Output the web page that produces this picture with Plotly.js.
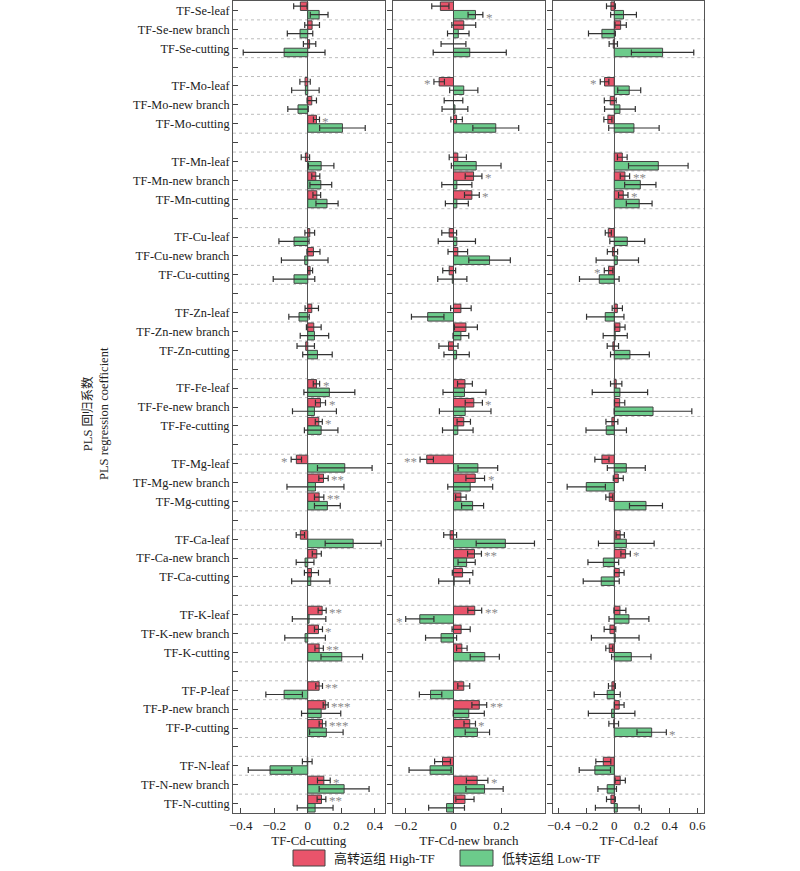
<!DOCTYPE html>
<html>
<head>
<meta charset="utf-8">
<script src="https://cdn.plot.ly/plotly-3.0.1.min.js"></script>
<style>html,body{margin:0;padding:0;background:#fff;}#chart{width:800px;height:871px;}</style>
</head>
<body>
<div id="chart"></div>
<script>
// ---------- DATA ----------
const elements = ['Se','Mo','Mn','Cu','Zn','Fe','Mg','Ca','K','P','N'];
const tissues = ['leaf','new branch','cutting'];
const panelTitles = ['TF-Cd-cutting','TF-Cd-new branch','TF-Cd-leaf'];
const seriesNames = ['高转运组 High-TF','低转运组 Low-TF'];

// order: Se-leaf, Se-new branch, Se-cutting, Mo-leaf, ... N-cutting
// Panel 1: TF-Cd-cutting
const cutHigh = [-0.044,0.026,0.011, -0.016,0.024,0.052, -0.014,0.048,0.054, 0.012,0.034,0.014,
  0.024,0.036,-0.012, 0.052,0.076,0.066, -0.068,0.094,0.068, -0.044,0.054,0.022,
  0.086,0.064,0.068, 0.068,0.107,0.088, -0.003,0.096,0.082];
const cutHighErr = [0.040,0.044,0.037, 0.031,0.028,0.018, 0.025,0.024,0.023, 0.029,0.039,0.015,
  0.040,0.044,0.052, 0.019,0.030,0.021, 0.031,0.028,0.028, 0.025,0.027,0.042,
  0.024,0.024,0.025, 0.020,0.015,0.020, 0.029,0.038,0.026];
const cutLow = [0.068,-0.046,-0.141, -0.014,-0.058,0.207, 0.080,0.078,0.115, -0.082,-0.018,-0.082,
  -0.052,0.040,0.058, 0.129,0.040,0.080, 0.221,0.046,0.117, 0.271,-0.016,0.018,
  0.008,-0.016,0.203, -0.141,0.080,0.111, -0.225,0.217,0.044];
const cutLowErr = [0.053,0.076,0.244, 0.082,0.061,0.136, 0.076,0.065,0.066, 0.090,0.139,0.124,
  0.061,0.085,0.088, 0.152,0.131,0.100, 0.163,0.170,0.077, 0.167,0.053,0.114,
  0.100,0.121,0.124, 0.109,0.117,0.100, 0.130,0.149,0.107];
const cutHighSig = ['','','', '','','*', '','','', '','','',
  '','','', '*','*','*', '*','**','**', '','','',
  '**','*','**', '**','***','***', '','*','**'];
const cutLowSig = new Array(33).fill('');

// Panel 2: TF-Cd-new branch
const nbHigh = [-0.055,0.043,0.000, -0.060,0.000,0.013, 0.018,0.084,0.077, -0.018,0.018,-0.018,
  0.031,0.052,-0.021, 0.048,0.085,0.043, -0.112,0.091,0.031, -0.014,0.088,0.038,
  0.089,0.032,0.035, 0.043,0.108,0.068, -0.046,0.099,0.048];
const nbHighErr = [0.036,0.050,0.052, 0.022,0.039,0.024, 0.036,0.035,0.031, 0.031,0.041,0.027,
  0.043,0.048,0.040, 0.031,0.036,0.028, 0.028,0.039,0.022, 0.027,0.029,0.043,
  0.029,0.038,0.022, 0.025,0.031,0.024, 0.033,0.045,0.038];
const nbLow = [0.092,0.020,0.068, 0.043,0.006,0.177, 0.095,0.014,0.014, 0.014,0.151,-0.005,
  -0.108,0.031,0.013, 0.046,0.049,0.018, 0.102,0.070,0.080, 0.217,0.055,0.003,
  -0.141,-0.052,0.131, -0.096,0.064,0.100, -0.098,0.130,-0.029];
const nbLowErr = [0.031,0.045,0.153, 0.059,0.054,0.096, 0.104,0.063,0.048, 0.078,0.087,0.061,
  0.068,0.033,0.053, 0.090,0.108,0.064, 0.083,0.094,0.046, 0.122,0.036,0.065,
  0.059,0.065,0.061, 0.047,0.065,0.051, 0.088,0.078,0.075];
const nbHighSig = ['','','', '*','','', '','*','*', '','','',
  '','','', '','*','', '**','*','', '','**','',
  '**','','', '','**','*', '','*',''];
const nbLowSig = ['*','','', '','','', '','','', '','','',
  '','','', '','','', '','','', '','','',
  '*','','', '','','', '','',''];

// Panel 3: TF-Cd-leaf
const lfHigh = [-0.024,0.046,-0.007, -0.070,-0.029,-0.046, 0.058,0.077,0.065, -0.043,-0.013,-0.041,
  0.022,0.041,-0.010, 0.014,0.039,-0.017, -0.089,0.029,-0.036, 0.043,0.082,0.036,
  0.041,-0.031,-0.036, -0.017,0.036,-0.004, -0.079,0.043,-0.024];
const lfHighErr = [0.032,0.041,0.030, 0.031,0.043,0.029, 0.035,0.034,0.034, 0.022,0.037,0.031,
  0.037,0.037,0.041, 0.041,0.037,0.043, 0.051,0.036,0.025, 0.030,0.034,0.035,
  0.043,0.042,0.025, 0.025,0.035,0.035, 0.054,0.037,0.032];
const lfLow = [0.067,-0.089,0.349, 0.108,0.041,0.142, 0.318,0.188,0.180, 0.094,0.022,-0.108,
  -0.065,0.007,0.113, 0.041,0.280,-0.058, 0.087,-0.202,0.229, 0.087,-0.079,-0.094,
  0.106,0.007,0.123, -0.051,-0.019,0.270, -0.140,-0.051,0.022];
const lfLowErr = [0.093,0.097,0.225, 0.083,0.111,0.182, 0.215,0.113,0.093, 0.126,0.153,0.143,
  0.135,0.087,0.140, 0.200,0.280,0.146, 0.137,0.138,0.119, 0.201,0.111,0.130,
  0.144,0.172,0.142, 0.094,0.168,0.106, 0.113,0.067,0.158];
const lfHighSig = ['','','', '*','','', '','**','*', '','','*',
  '','','', '','','', '','','', '','*','',
  '','','', '','','', '','',''];
const lfLowSig = ['','','', '','','', '','','', '','','',
  '','','', '','','', '','','', '','','',
  '','','', '','','*', '','',''];

const xTickVals = [[-0.4,-0.2,0,0.2,0.4],[-0.2,0,0.2],[-0.4,-0.2,0,0.2,0.4,0.6]];

// ---------- BUILD ----------
const categories = [];
elements.forEach(el => tissues.forEach(t => categories.push('TF-' + el + '-' + t)));
const catOrder = [], catText = [];
elements.forEach((el, k) => {
  tissues.forEach(t => { const c = 'TF-' + el + '-' + t; catOrder.push(c); catText.push(c); });
  if (k < elements.length - 1) { catOrder.push('gap' + k); catText.push(''); }
});

const panels = [
  {hi: cutHigh, hiE: cutHighErr, lo: cutLow, loE: cutLowErr, hiS: cutHighSig, loS: cutLowSig},
  {hi: nbHigh, hiE: nbHighErr, lo: nbLow, loE: nbLowErr, hiS: nbHighSig, loS: nbLowSig},
  {hi: lfHigh, hiE: lfHighErr, lo: lfLow, loE: lfLowErr, hiS: lfHighSig, loS: lfLowSig}
];
const colors = ['#E9546B', '#6CCB8B'];
const FONT = 'Liberation Serif, Times New Roman, serif';
const W = 800;
const domains = [[233/W, 384.5/W], [393.3/W, 544.5/W], [553.3/W, 704.3/W]];
const ranges = [[-0.446, 0.458], [-0.252, 0.381], [-0.44, 0.65]];

const traces = [];
const annotations = [];
const shapes = [];
const layout = {
  width: 800, height: 871,
  margin: {l: 0, r: 0, t: 1, b: 58},
  paper_bgcolor: '#fff', plot_bgcolor: '#fff',
  barmode: 'group', bargap: 0.1, bargroupgap: 0,
  showlegend: false,
  font: {family: FONT, size: 12, color: '#222'}
};

panels.forEach((p, i) => {
  const xa = i === 0 ? 'x' : 'x' + (i + 1);
  const ya = i === 0 ? 'y' : 'y' + (i + 1);
  const sets = [[p.hi, p.hiE, p.hiS], [p.lo, p.loE, p.loS]];
  sets.forEach((s, j) => {
    traces.push({
      type: 'bar', orientation: 'h', name: seriesNames[j],
      x: s[0], y: categories, xaxis: xa, yaxis: ya,
      marker: {color: colors[j], line: {color: '#444', width: 1}},
      error_x: {type: 'data', array: s[1], visible: true, color: '#333', thickness: 1.2, width: 3},
      hoverinfo: 'x+y'
    });
    s[2].forEach((sg, k) => {
      if (!sg) return;
      const v = s[0][k], e = s[1][k];
      const pos = v >= 0;
      annotations.push({
        xref: xa, yref: ya, x: pos ? v + e : v - e, y: categories[k],
        text: sg, showarrow: false,
        xanchor: pos ? 'left' : 'right', yanchor: 'middle',
        xshift: pos ? 1 : -1, yshift: (j === 0 ? 4.6 : -4.6) - 2,
        font: {family: FONT, size: 13, color: '#8a8a8a'}
      });
    });
  });
  layout['xaxis' + (i === 0 ? '' : i + 1)] = {
    domain: domains[i], anchor: ya, range: ranges[i],
    tickvals: xTickVals[i], ticks: 'inside', ticklen: 5, tickcolor: '#444',
    showline: true, linecolor: '#555', linewidth: 1, mirror: true,
    showgrid: false, zeroline: true, zerolinecolor: '#555', zerolinewidth: 1.5,
    tickfont: {family: FONT, size: 13, color: '#222'},
    title: {text: panelTitles[i], font: {family: FONT, size: 13, color: '#222'}, standoff: 2}
  };
  layout['yaxis' + (i === 0 ? '' : i + 1)] = {
    domain: [0, 1], anchor: xa, type: 'category',
    categoryorder: 'array', categoryarray: catOrder,
    range: [catOrder.length - 0.5, -0.5],
    tickvals: catOrder, ticktext: catText,
    showticklabels: i === 0,
    ticks: i === 0 ? 'inside' : 'outside', ticklen: 5, tickcolor: '#444',
    showline: true, linecolor: '#555', linewidth: 1, mirror: true,
    showgrid: false, zeroline: false,
    tickfont: {family: FONT, size: 12.3, color: '#222'}
  };
  for (let b = 0; b < catOrder.length - 1; b++) {
    shapes.push({
      type: 'line', xref: xa + ' domain', yref: ya, x0: 0, x1: 1, y0: b + 0.5, y1: b + 0.5,
      line: {color: '#bdbdbd', width: 1, dash: 'dot'}, layer: 'below'
    });
  }
});

// Legend drawn as paper shapes + text
const pyToPaper = py => (813 - py) / 812;
const legendItems = [
  {x0: 293, x1: 325, tx: 332, color: colors[0], text: seriesNames[0]},
  {x0: 460, x1: 493, tx: 500, color: colors[1], text: seriesNames[1]}
];
legendItems.forEach(it => {
  shapes.push({type: 'rect', xref: 'paper', yref: 'paper',
    x0: it.x0 / W, x1: it.x1 / W, y0: pyToPaper(866), y1: pyToPaper(850),
    fillcolor: it.color, line: {color: '#444', width: 1}});
  annotations.push({xref: 'paper', yref: 'paper', x: it.tx / W, y: pyToPaper(858),
    xanchor: 'left', yanchor: 'middle', showarrow: false, text: it.text,
    font: {family: 'Liberation Serif, Noto Sans CJK SC', size: 13, color: '#222'}});
});

// Y-axis title
annotations.push({xref: 'paper', yref: 'paper', x: 96 / W, y: pyToPaper(414),
  xanchor: 'center', yanchor: 'middle', showarrow: false, textangle: -90,
  text: 'PLS 回归系数<br>PLS regression coefficient',
  font: {family: 'Liberation Serif, Noto Sans CJK SC', size: 12.5, color: '#222'}});

layout.annotations = annotations;
layout.shapes = shapes;

Plotly.newPlot('chart', traces, layout, {displayModeBar: false, staticPlot: true});
</script>
</body>
</html>
